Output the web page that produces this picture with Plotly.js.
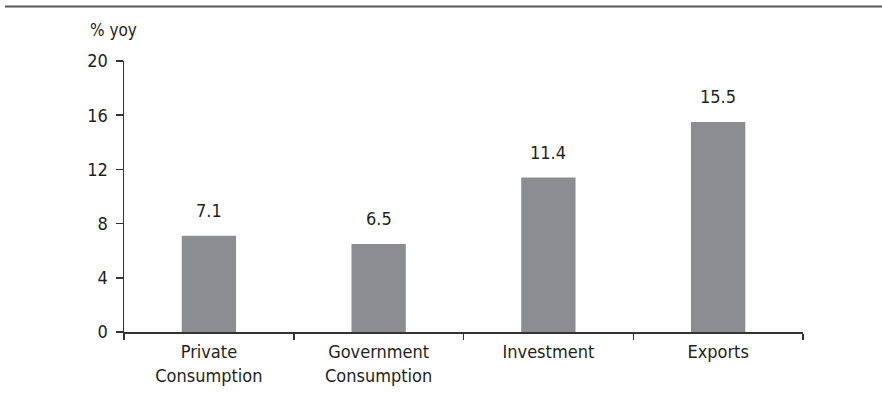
<!DOCTYPE html>
<html>
<head>
<meta charset="utf-8">
<script src="https://cdn.plot.ly/plotly-3.0.1.min.js"></script>
<style>html,body{margin:0;padding:0;background:#fff;}#chart{width:882px;height:396px;}</style>
</head>
<body>
<div id="chart"></div>
<script>
const categories = ["Private<br>Consumption", "Government<br>Consumption", "Investment", "Exports"];
const values = [7.1, 6.5, 11.4, 15.5];
const valueLabels = ["7.1", "6.5", "11.4", "15.5"];
const yTicks = [0, 4, 8, 12, 16, 20];
const yUnit = "% yoy";

const FONT = "'DejaVu Sans Condensed', 'Liberation Sans Narrow', sans-serif";
const TXT = "#231f20";

const L = 124, R = 803, T = 61, B = 332, W = 882, H = 396;
const pw = R - L, ph = B - T;

const trace = {
  type: "bar",
  x: categories,
  y: values,
  marker: {color: "#8c8d91"},
  width: 0.32,
  hoverinfo: "none"
};

const annotations = categories.map((c, i) => ({
  x: c, y: values[i], xref: "x", yref: "y",
  text: valueLabels[i], showarrow: false,
  yanchor: "bottom", yshift: 13,
  font: {family: FONT, size: 18, color: TXT}
}));
annotations.push({
  xref: "paper", yref: "paper",
  x: (88 - L) / pw, y: (B - 30) / ph,
  xanchor: "left", yanchor: "middle",
  text: yUnit, showarrow: false,
  font: {family: FONT, size: 17, color: TXT}
});

const layout = {
  width: W, height: H,
  margin: {l: L, r: W - R, t: T, b: H - B, pad: 0},
  paper_bgcolor: "#fff", plot_bgcolor: "#fff",
  showlegend: false,
  bargap: 0.68,
  font: {family: FONT, size: 17, color: TXT},
  xaxis: {
    type: "category",
    showline: true, linecolor: "#333", linewidth: 1.5,
    ticks: "outside", ticklen: 6, tickcolor: "#333", tickwidth: 1.5,
    tickson: "boundaries",
    ticklabelstandoff: 3,
    showgrid: false, zeroline: false,
    tickfont: {family: FONT, size: 18, color: TXT},
    fixedrange: true
  },
  yaxis: {
    range: [0, 20],
    tickvals: yTicks,
    ticktext: yTicks.map(String),
    showline: true, linecolor: "#333", linewidth: 1.5,
    ticks: "outside", ticklen: 7, tickcolor: "#333", tickwidth: 1.5,
    ticklabelstandoff: 4,
    showgrid: false, zeroline: false,
    tickfont: {family: FONT, size: 18, color: TXT},
    fixedrange: true
  },
  shapes: [{
    type: "line", xref: "paper", yref: "paper",
    x0: (5 - L) / pw, x1: (W - L) / pw,
    y0: (B - 6.5) / ph, y1: (B - 6.5) / ph,
    line: {color: "#555", width: 2}
  }],
  annotations: annotations
};

Plotly.newPlot("chart", [trace], layout, {displayModeBar: false, staticPlot: true});
</script>
</body>
</html>
